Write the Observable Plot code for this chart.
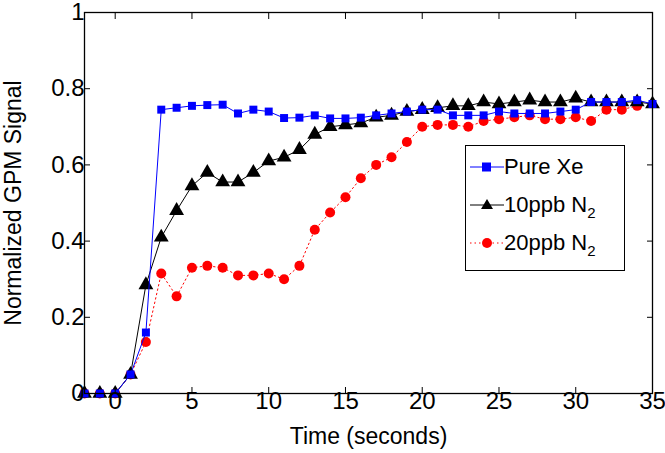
<!DOCTYPE html>
<html><head>
<script src="https://cdn.jsdelivr.net/npm/d3@7"></script>
<script src="https://cdn.jsdelivr.net/npm/@observablehq/plot@0.6"></script>
<style>
body{margin:0;background:#fff;font-family:"Liberation Sans",sans-serif}
#c{position:relative;width:665px;height:453px}
#c svg g[aria-label$="tick label"]{font-size:24px}
#c svg g[aria-label$="label"]:not([aria-label$="tick label"]){font-size:23px}
#leg{position:absolute;left:465px;top:145px;width:158px;height:124px;border:1.3px solid #000;background:#fff;font-size:22px}
#leg div{position:absolute;left:0;height:30px;line-height:30px}
#leg svg{position:absolute;left:4px;top:3px}
#leg span{position:absolute;left:38px;white-space:nowrap}
sub{font-size:15px;vertical-align:-6px;line-height:0}
</style></head><body>
<div id="c"></div>
<script>
const time = d3.range(-2, 36);
const xTicks = [0, 5, 10, 15, 20, 25, 30, 35];
const yTicks = [0, 0.2, 0.4, 0.6, 0.8, 1];
const pureXe = [0,0,0,0.05,0.16,0.745,0.75,0.755,0.757,0.758,0.735,0.745,0.74,0.723,0.724,0.73,0.722,0.722,0.724,0.73,0.735,0.74,0.745,0.745,0.73,0.73,0.73,0.74,0.735,0.735,0.735,0.74,0.745,0.765,0.765,0.765,0.77,0.76];
const n2_10 = [0,0,0,0.05,0.285,0.41,0.48,0.545,0.58,0.555,0.555,0.58,0.61,0.62,0.64,0.68,0.7,0.705,0.71,0.725,0.73,0.74,0.745,0.75,0.755,0.755,0.765,0.76,0.765,0.77,0.765,0.765,0.775,0.765,0.765,0.765,0.765,0.76];
const n2_20 = [0,0,0,0.05,0.135,0.315,0.255,0.33,0.335,0.33,0.31,0.31,0.315,0.30,0.335,0.43,0.475,0.515,0.565,0.60,0.62,0.66,0.70,0.705,0.705,0.70,0.715,0.72,0.725,0.73,0.72,0.72,0.725,0.715,0.745,0.745,0.755];
const rows = (ys) => ys.map((y, i) => ({t: time[i], y}));
const blue = rows(pureXe), black = rows(n2_10), red = rows(n2_20);
const none = () => "";

const chart = Plot.plot({
  width: 665, height: 453,
  marginLeft: 84, marginRight: 13, marginTop: 12, marginBottom: 60,
  style: {fontFamily: "Liberation Sans, sans-serif", fontSize: "22px", color: "black"},
  x: {domain: [-2, 35]},
  y: {domain: [0, 1]},
  marks: [
    Plot.line(red, {x: "t", y: "y", stroke: "red", strokeDasharray: "1.5,3", strokeWidth: 1}),
    Plot.dot(red, {x: "t", y: "y", fill: "red", r: 5}),
    Plot.line(black, {x: "t", y: "y", stroke: "black", strokeWidth: 1}),
    Plot.dot(black, {x: "t", y: "y", fill: "black", symbol: "triangle", r: 5.5}),
    Plot.line(blue, {x: "t", y: "y", stroke: "blue", strokeWidth: 1}),
    Plot.dot(blue, {x: "t", y: "y", fill: "blue", symbol: "square", r: 4.5}),
    Plot.frame({stroke: "black", strokeWidth: 1.3}),
    Plot.axisX({ticks: xTicks, tickSize: -6, tickPadding: 4, label: "Time (seconds)", labelAnchor: "center", labelArrow: false, labelOffset: 50}),
    Plot.axisX({ticks: xTicks, anchor: "top", tickSize: -6, tickFormat: none, label: null}),
    Plot.axisY({ticks: yTicks, tickSize: -6, tickPadding: 6, label: "Normalized GPM Signal", labelAnchor: "center", labelArrow: false, labelOffset: 80, tickFormat: d => d === 0 ? "0" : d === 1 ? "1" : d3.format(".1f")(d)}),
    Plot.axisY({ticks: yTicks, anchor: "right", tickSize: -6, tickFormat: none, label: null})
  ]
});
const c = document.getElementById("c");
c.append(chart);
const leg = document.createElement("div");
leg.id = "leg";
leg.innerHTML = `
<div style="top:6px;width:100%"><svg width="34" height="24"><line x1="0" y1="12" x2="34" y2="12" stroke="blue"/><rect x="12" y="7.5" width="9" height="9" fill="blue"/></svg><span>Pure Xe</span></div>
<div style="top:44px;width:100%"><svg width="34" height="24"><line x1="0" y1="12" x2="34" y2="12" stroke="black"/><path d="M17,6 L23,16 L11,16Z" fill="black"/></svg><span>10ppb N<sub>2</sub></span></div>
<div style="top:82px;width:100%"><svg width="34" height="24"><line x1="0" y1="12" x2="34" y2="12" stroke="red" stroke-dasharray="1.5,3"/><circle cx="17" cy="12" r="5" fill="red"/></svg><span>20ppb N<sub>2</sub></span></div>`;
c.append(leg);
</script>
</body></html>
